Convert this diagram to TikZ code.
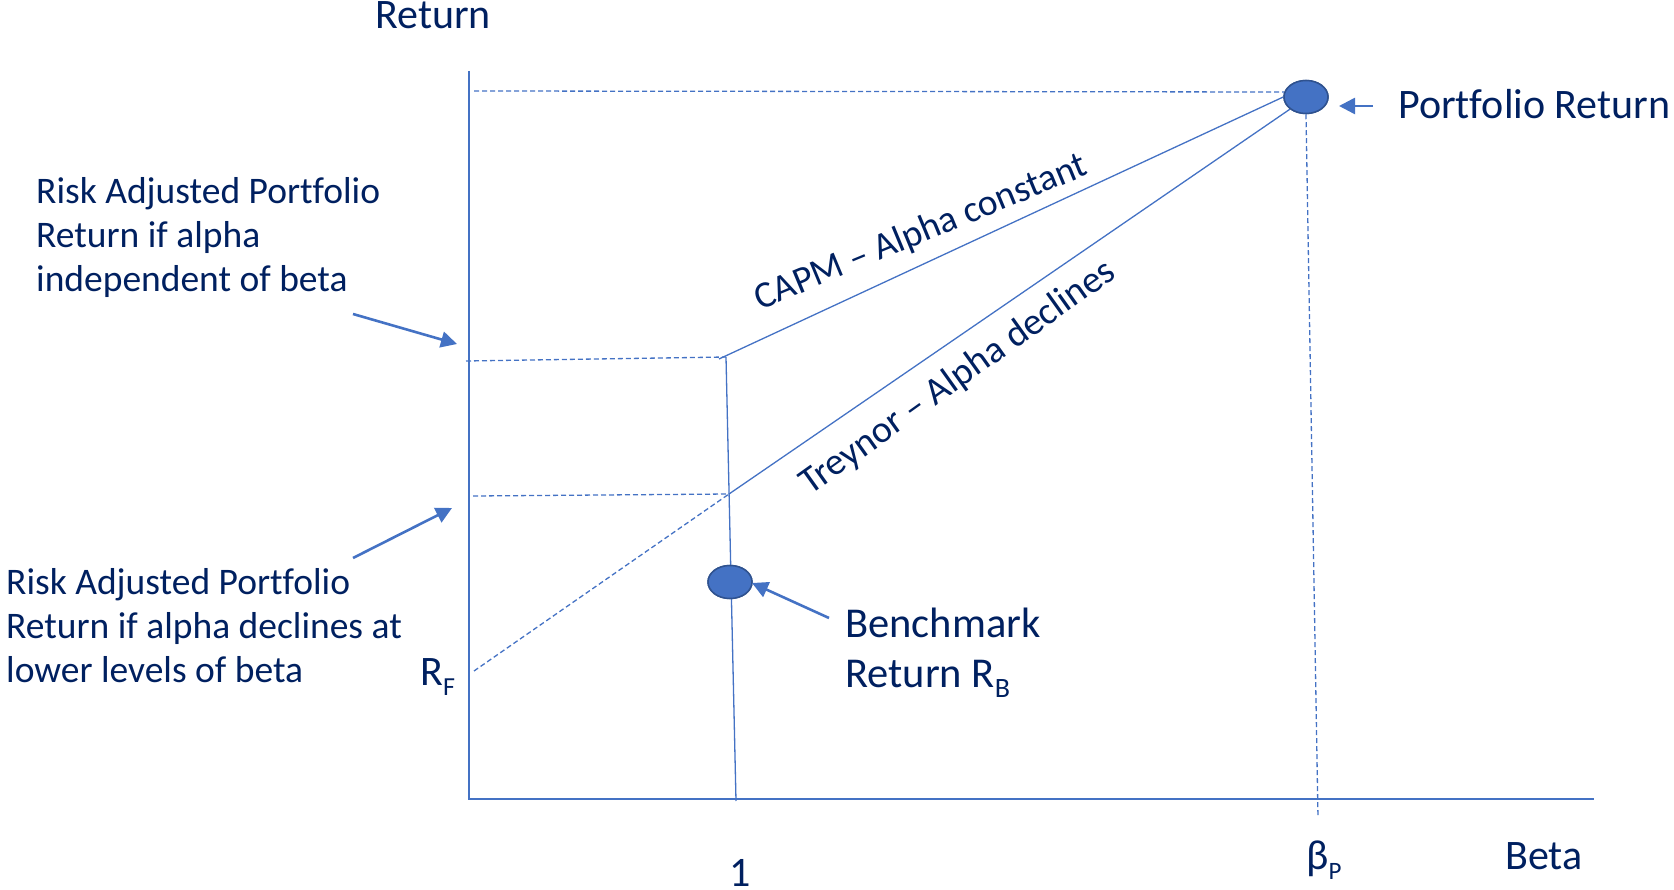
\documentclass[tikz,border=0pt]{standalone}
\usepackage{fontspec}
\setmainfont{Carlito}[Ligatures={NoCommon}]
\usetikzlibrary{arrows.meta,shapes.geometric}
\definecolor{ink}{HTML}{002060}
\definecolor{lineblue}{HTML}{4472C4}
\definecolor{rimblue}{HTML}{2F528F}
\newcommand{\lowsub}[2]{\raisebox{-0.25em}{\fontsize{#1}{#1}\selectfont #2}}
\begin{document}
\begin{tikzpicture}[x=1pt,y=-1pt,
  axis/.style={draw=lineblue, line width=2pt},
  guide/.style={draw=lineblue, line width=1.3pt, dash pattern=on 5pt off 3pt},
  slope/.style={draw=lineblue, line width=1.3pt},
  pointer/.style={draw=lineblue, line width=2.6pt, -{Triangle[length=16pt,width=16pt]}},
  dot/.style={ellipse, draw=rimblue, fill=lineblue, line width=1.5pt,
    minimum width=44pt, minimum height=33pt, inner sep=0pt},
  lbl/.style={text=ink, inner sep=0pt, anchor=base west},
  big/.style={font=\fontsize{42}{50}\selectfont},
  side/.style={font=\fontsize{37.5}{44}\selectfont, align=left},
  slant/.style={text=ink, inner sep=0pt, anchor=base, font=\fontsize{38}{44}\selectfont},
]
\useasboundingbox (0,0) rectangle (1674,890);

% axes
\coordinate (ytop) at (469,71);
\coordinate (O) at (469,799);
\coordinate (xend) at (1594,799);
\draw[axis] (ytop) -- (O) -- (xend);

% markers
\node[dot] (P) at (1306,97) {};
\node[dot] (B) at (730,582) {};

% key points
\coordinate (c1) at (719,359);
\coordinate (v1) at (726,357);
\coordinate (v2) at (736,801);
\coordinate (t1) at (729,494);
\coordinate (rf) at (474,671);
\coordinate (ptop) at (1284,92);
\coordinate (pfoot) at (1318,818);
\coordinate (h1) at (474,91);
\coordinate (h2) at (466,361);
\coordinate (h3) at (473,496);

% guide lines
\draw[guide] (h1) -- (ptop);
\draw[guide] (h2) -- (v1);
\draw[guide] (h3) -- (t1);
\draw[guide] (rf) -- (t1);
\draw[guide] (P.south) -- (pfoot);

% solid lines
\draw[slope] (v1) -- (v2);
\draw[slope] (c1) -- (P.west);
\draw[slope] (t1) -- (P.south west);

% redraw markers on top
\node[dot] at (P) {};
\node[dot] at (B) {};

% pointers
\coordinate (a1s) at (1373,106); \coordinate (a1e) at (1339,106);
\coordinate (a2s) at (353,314);  \coordinate (a2e) at (457,344);
\coordinate (a3s) at (353,558);  \coordinate (a3e) at (452,508);
\coordinate (a4s) at (829,618);  \coordinate (a4e) at (752,583);
\draw[pointer] (a1s) -- (a1e);
\draw[pointer] (a2s) -- (a2e);
\draw[pointer] (a3s) -- (a3e);
\draw[pointer] (a4s) -- (a4e);

% labels
\node[lbl, big] (ret) at (375,29) {Return};
\node[lbl, font=\fontsize{42}{50}\selectfont] (pr) at (1398,119) {Portfolio Return};
\node[lbl, side] (up) at (36,292) {Risk Adjusted Portfolio\\Return if alpha\\independent of beta};
\node[lbl, side] (lo) at (6,682) {Risk Adjusted Portfolio\\Return if alpha declines at\\lower levels of beta};
\node[lbl, big] (rfl) at (420,685) {R\lowsub{26}{F}};
\node[lbl, font=\fontsize{42.5}{50}\selectfont, align=left] (bm) at (845,687) {Benchmark\\Return R\lowsub{28}{B}};
\node[lbl, big, anchor=base] (one) at (740,886) {1};
\node[lbl, big] (bp) at (1306,869) {β\lowsub{25}{P}};
\node[lbl, big] (beta) at (1505,869) {Beta};
\node[slant, rotate=22.5, font=\fontsize{37.5}{44}\selectfont] (capm) at (925,242) {CAPM – Alpha constant};
\node[slant, rotate=35.5] (trey) at (964,386) {Treynor – Alpha declines};
\end{tikzpicture}
\end{document}
